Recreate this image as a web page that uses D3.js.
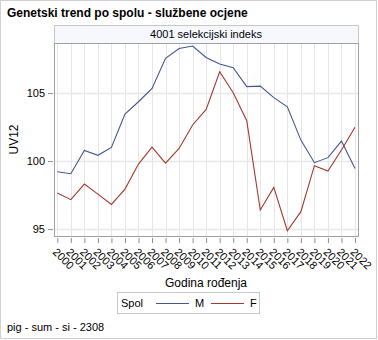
<!DOCTYPE html>
<html><head><meta charset="utf-8">
<script src="https://cdn.jsdelivr.net/npm/d3@7"></script>
<style>body{margin:0;background:#fff}svg{display:block}text{font-family:"Liberation Sans",Arial,sans-serif;fill:#000}</style>
</head><body><svg id="c" width="378" height="340"></svg>
<script>
const years = [2000,2001,2002,2003,2004,2005,2006,2007,2008,2009,2010,2011,2012,2013,2014,2015,2016,2017,2018,2019,2020,2021,2022];
const valuesM = [99.21,99.07,100.78,100.42,101.0,103.46,104.36,105.34,107.55,108.28,108.46,107.62,107.13,106.86,105.47,105.51,104.66,103.99,101.54,99.88,100.25,101.47,99.46];
const valuesF = [97.65,97.16,98.31,97.57,96.81,97.94,99.78,101.03,99.85,100.93,102.65,103.8,106.57,105.02,102.97,96.4,98.06,94.88,96.28,99.66,99.26,100.81,102.48];
const yTicks = [95,100,105];
const seriesNames = ["M","F"];
const seriesColors = ["#445694","#A23A2E"];

const svg = d3.select("#c");
const L=54, R=358, T=43, B=236;
svg.append("rect").attr("x",0.5).attr("y",0.5).attr("width",376).attr("height",338).attr("fill","#fff").attr("stroke","#d0d0d0");
svg.append("text").attr("x",7).attr("y",17).attr("font-size",12).attr("font-weight","bold").text("Genetski trend po spolu - službene ocjene");

// header strip
svg.append("rect").attr("x",L+0.5).attr("y",25.5).attr("width",R-L).attr("height",T-25).attr("fill","#f6f8fe").attr("stroke","#c8c8c8");
svg.append("text").attr("x",(L+R)/2).attr("y",38).attr("text-anchor","middle").attr("font-size",11).text("4001 selekcijski indeks");

const x = d3.scaleLinear().domain([2000,2022]).range([57.3,355]);
const y = d3.scaleLinear().domain([94.49,108.68]).range([B,T]);

// grid
const g = svg.append("g");
g.selectAll(".vg").data(years).join("line").attr("x1",d=>Math.round(x(d))+0.5).attr("x2",d=>Math.round(x(d))+0.5).attr("y1",T).attr("y2",B).attr("stroke","#e6e6e6");
g.selectAll(".hg").data(yTicks).join("line").attr("x1",L).attr("x2",R).attr("y1",d=>Math.round(y(d))+0.5).attr("y2",d=>Math.round(y(d))+0.5).attr("stroke","#e6e6e6").attr("stroke-width",1.5);

// lines
const line = d3.line().x((d,i)=>x(years[i])).y(d=>y(d));
[valuesM,valuesF].forEach((v,i)=>{
  svg.append("path").datum(v).attr("d",line).attr("fill","none").attr("stroke",seriesColors[i]).attr("stroke-width",1.1);
});

// frame
svg.append("rect").attr("x",L+0.5).attr("y",T+0.5).attr("width",R-L).attr("height",B-T).attr("fill","none").attr("stroke","#a0a0a0");

// y axis
const ya = svg.append("g").attr("transform",`translate(${L-1},0)`).call(d3.axisLeft(y).tickValues(yTicks).tickSize(5).tickPadding(3));
ya.select(".domain").remove();
ya.selectAll("line").attr("stroke","#909090");
ya.selectAll("text").attr("font-size",11).attr("font-family","Liberation Sans, Arial, sans-serif").attr("fill","#000");

// x axis
const xa = svg.append("g").attr("transform",`translate(0,${B+2})`).call(d3.axisBottom(x).tickValues(years).tickFormat(d3.format("d")).tickSize(5));
xa.select(".domain").remove();
xa.selectAll("line").attr("stroke","#909090");
xa.selectAll("text").attr("font-size",11).attr("font-family","Liberation Sans, Arial, sans-serif").attr("fill","#000")
  .attr("text-anchor","start").attr("dy","0.35em").attr("y",0)
  .attr("transform","translate(-3,12) rotate(45)");

svg.append("text").attr("x",(L+R)/2).attr("y",287).attr("text-anchor","middle").attr("font-size",12).text("Godina rođenja");
svg.append("text").attr("transform",`translate(18,${(T+B)/2}) rotate(-90)`).attr("text-anchor","middle").attr("font-size",12).text("UV12");

// legend
svg.append("rect").attr("x",117.5).attr("y",292.5).attr("width",142).attr("height",21).attr("fill","#fff").attr("stroke","#c8c8c8");
svg.append("text").attr("x",121).attr("y",307).attr("font-size",11).text("Spol");
const lx=[156,211];
seriesNames.forEach((n,i)=>{
  svg.append("line").attr("x1",lx[i]).attr("x2",lx[i]+33).attr("y1",303.5).attr("y2",303.5).attr("stroke",seriesColors[i]).attr("stroke-width",1.1);
  svg.append("text").attr("x",lx[i]+39).attr("y",307).attr("font-size",11).text(n);
});
svg.append("text").attr("x",7).attr("y",331).attr("font-size",11).text("pig - sum - si - 2308");
</script></body></html>
